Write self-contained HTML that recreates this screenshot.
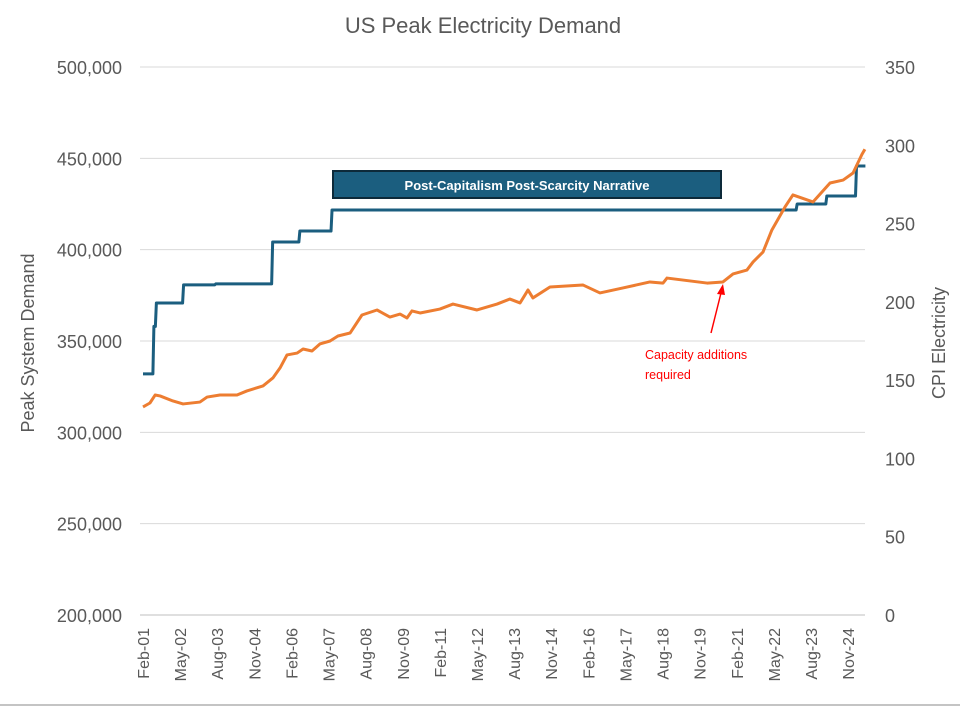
<!DOCTYPE html>
<html><head><meta charset="utf-8"><style>
body{margin:0;background:#fff;}
svg{display:block;font-family:"Liberation Sans",sans-serif;}
</style></head><body>
<svg id="chart" width="960" height="707" viewBox="0 0 960 707">
<text x="483" y="33" text-anchor="middle" font-size="22" fill="#595959">US Peak Electricity Demand</text>
<g id="grid"></g><g id="axes"></g><g id="series"></g>
<text transform="translate(34,343) rotate(-90)" text-anchor="middle" font-size="18" fill="#595959">Peak System Demand</text>
<text transform="translate(945,343) rotate(-90)" text-anchor="middle" font-size="18" fill="#595959">CPI Electricity</text>
<g>
<rect x="333" y="171" width="388" height="27" fill="#1b5e7f" stroke="#0d2a3a" stroke-width="2"/>
<text x="527" y="190" text-anchor="middle" font-size="13" font-weight="bold" fill="#fff">Post-Capitalism Post-Scarcity Narrative</text>
</g>
<g>
<line x1="711" y1="333" x2="721" y2="293" stroke="#f00" stroke-width="1.5"/>
<polygon points="723,284 717,294 725,295" fill="#f00"/>
<text x="645" y="359" font-size="12.5" fill="#f00">Capacity additions</text>
<text x="645" y="379" font-size="12.5" fill="#f00">required</text>
</g>
<line x1="0" y1="705" x2="960" y2="705" stroke="#888" stroke-width="1"/>
</svg>
<script>
const leftTicks=[200000,250000,300000,350000,400000,450000,500000];
const rightTicks=[0,50,100,150,200,250,300,350];
const xTickMonths=[0,15,30,45,60,75,90,105,120,135,150,165,180,195,210,225,240,255,270,285];
const xTickLabels=["Feb-01","May-02","Aug-03","Nov-04","Feb-06","May-07","Aug-08","Nov-09","Feb-11","May-12","Aug-13","Nov-14","Feb-16","May-17","Aug-18","Nov-19","Feb-21","May-22","Aug-23","Nov-24"];
const demandStepMonths=[0,4,5,16,29,52,63,76,264,276,288];
const demandStepValues=[332000,358000,370800,380700,381300,404200,410200,421700,425000,429400,445800];
const demandEndMonth=292;
const cpiMonths=[0,2.8,4.9,6.9,12.1,16.2,23,25.9,31.1,38,42,48.5,52.5,55.4,58.2,62.3,64.7,68.3,71.5,75.6,78.8,83.7,88.5,94.6,99.8,103.9,106.7,108.7,112,120,125.3,135,143.1,148.3,152.4,154.4,155.6,157.6,164.5,177.8,184.7,194,204.9,210.2,211.8,228,234.4,238.5,244.1,246.6,250.6,254.2,259.5,262.7,270.8,277.7,283,287,290.6,291.8];
const cpiValues=[132.9,135.4,140.5,139.9,136.7,134.8,136,139.2,140.5,140.5,143.1,146.3,151.4,157.8,166.1,167.3,169.9,168.6,173.1,175,178.2,180.1,191.6,194.8,190.3,192.2,189.7,194.2,192.9,195.4,198.6,194.8,198.6,201.8,199.3,204.4,207.6,202.5,209.5,210.8,205.7,208.9,212.7,212,215.2,212,212.7,217.8,220.3,225.5,231.8,245.9,260.6,268.3,263.8,275.9,277.8,282.3,294.2,297.5];

const X0=143,XPM=2.474,YB=615,YT=67;
const xS=m=>X0+m*XPM;
const yL=v=>YB-(v-200000)/300000*(YB-YT);
const yR=v=>YB-v/350*(YB-YT);
const NS="http://www.w3.org/2000/svg";
function mk(tag,parent,attrs){const e=document.createElementNS(NS,tag);for(const k in attrs)e.setAttribute(k,attrs[k]);parent.appendChild(e);return e;}
const grid=document.getElementById('grid'),axes=document.getElementById('axes'),series=document.getElementById('series');
leftTicks.forEach((v,i)=>{
  const y=yL(v);
  const g=mk('line',grid,{x1:140,x2:865,y1:y,y2:y,stroke:i==0?'#bfbfbf':'#d9d9d9','stroke-width':1});
  
  
  const t=mk('text',axes,{x:122,y:y+7,'text-anchor':'end','font-size':18,fill:'#595959'});
  t.textContent=v.toLocaleString('en-US');
  
  
});
rightTicks.forEach(v=>{
  const t=mk('text',axes,{x:885,y:yR(v)+7,'font-size':18,fill:'#595959'});
  t.textContent=v;
  
  
});
xTickMonths.forEach((m,i)=>{
  const x=xS(m);
  const t=mk('text',axes,{transform:`translate(${x+6},628) rotate(-90)`,'text-anchor':'end','font-size':16,fill:'#595959'});
  t.textContent=xTickLabels[i];
  
  
});
let d='';
demandStepMonths.forEach((m,i)=>{
  const y=yL(demandStepValues[i]);
  if(i==0)d+=`M${xS(m)},${y}`;else d+=`L${xS(m)+1},${y}`;
  const next=i<demandStepMonths.length-1?demandStepMonths[i+1]:demandEndMonth;
  d+=`L${xS(next)},${y}`;
});
const p1=mk('path',series,{d:d,fill:'none',stroke:'#1b5e7f','stroke-width':3,'stroke-linejoin':'round'});


const d2=cpiMonths.map((m,i)=>(i?'L':'M')+xS(m)+','+yR(cpiValues[i])).join('');
const p2=mk('path',series,{d:d2,fill:'none',stroke:'#ed7d31','stroke-width':3,'stroke-linejoin':'round'});


</script>
</body></html>
